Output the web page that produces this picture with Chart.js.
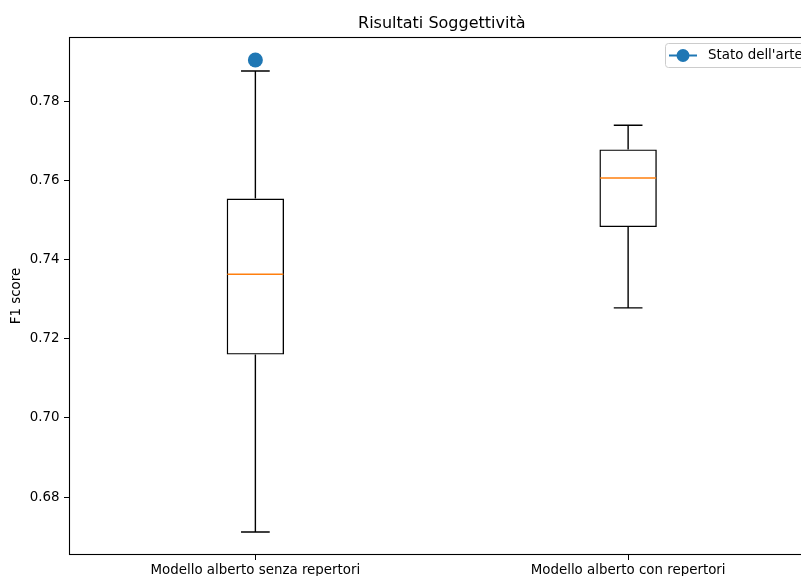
<!DOCTYPE html>
<html>
<head>
<meta charset="utf-8">
<script src="https://cdn.jsdelivr.net/npm/chart.js@4.4.1/dist/chart.umd.min.js"></script>
<style>
  html, body { margin: 0; padding: 0; background: #fff; overflow: hidden; }
  #wrap { position: absolute; left: 0; top: 0; width: 830px; height: 576px; }
</style>
</head>
<body>
<div id="wrap"><canvas id="c"></canvas></div>
<script>
// Models compared
const categories = ['Modello alberto senza repertori', 'Modello alberto con repertori'];
// Box plot statistics of the F1 score per model
const whiskerLow  = [0.6712, 0.7278];
const quartile1   = [0.7160, 0.7482];
const medians     = [0.7363, 0.7606];
const quartile3   = [0.7554, 0.7678];
const whiskerHigh = [0.7876, 0.7739];
// Reference result from the literature (first model only)
const stateOfArt  = [0.7904, null];
// Y axis ticks
const yTicks = [0.68, 0.70, 0.72, 0.74, 0.76, 0.78];

const FONT = 'DejaVu Sans';
const BLUE = '#1f77b4';

// Whiskers, caps and medians drawn over the floating-bar boxes
const boxPlotExtras = {
  id: 'boxPlotExtras',
  afterDatasetsDraw(chart) {
    const ctx = chart.ctx;
    const y = chart.scales.y;
    const meta = chart.getDatasetMeta(0);
    ctx.save();
    meta.data.forEach((bar, i) => {
      const x = bar.x;
      const half = bar.width / 2;
      const cap = half / 2;
      const yLo = y.getPixelForValue(whiskerLow[i]);
      const yQ1 = y.getPixelForValue(quartile1[i]);
      const yQ3 = y.getPixelForValue(quartile3[i]);
      const yHi = y.getPixelForValue(whiskerHigh[i]);
      const yMed = y.getPixelForValue(medians[i]);
      ctx.strokeStyle = '#000';
      ctx.lineWidth = 1.4;
      ctx.beginPath();
      ctx.moveTo(x, yQ1); ctx.lineTo(x, yLo);
      ctx.moveTo(x, yQ3); ctx.lineTo(x, yHi);
      ctx.moveTo(x - cap, yLo); ctx.lineTo(x + cap, yLo);
      ctx.moveTo(x - cap, yHi); ctx.lineTo(x + cap, yHi);
      ctx.stroke();
      ctx.strokeStyle = '#ff7f0e';
      ctx.lineWidth = 1.5;
      ctx.beginPath();
      ctx.moveTo(x - half + 0.7, yMed); ctx.lineTo(x + half - 0.7, yMed);
      ctx.stroke();
    });
    ctx.restore();
  }
};

// Axes frame and legend in the upper right corner
const frameAndLegend = {
  id: 'frameAndLegend',
  afterDraw(chart) {
    const ctx = chart.ctx;
    const a = chart.chartArea;
    ctx.save();
    ctx.strokeStyle = '#000';
    ctx.lineWidth = 1.1;
    ctx.strokeRect(a.left + 0.5, a.top + 0.5, a.right - a.left - 1, a.bottom - a.top - 1);

    // legend box
    const ds = chart.data.datasets[1];
    const bx = 665.5, by = 43.5, bw = 142, bh = 24, r = 3;
    ctx.fillStyle = 'rgba(255,255,255,0.8)';
    ctx.strokeStyle = '#cccccc';
    ctx.lineWidth = 1;
    ctx.beginPath();
    ctx.roundRect(bx, by, bw, bh, r);
    ctx.fill();
    ctx.stroke();
    const cy = by + bh / 2;
    ctx.strokeStyle = BLUE;
    ctx.lineWidth = 2;
    ctx.beginPath();
    ctx.moveTo(669, cy); ctx.lineTo(697, cy);
    ctx.stroke();
    ctx.fillStyle = BLUE;
    ctx.beginPath();
    ctx.arc(683, cy, 6.5, 0, Math.PI * 2);
    ctx.fill();
    ctx.fillStyle = '#000';
    ctx.font = '13.4px "' + FONT + '"';
    ctx.textBaseline = 'middle';
    ctx.textAlign = 'left';
    ctx.fillText(ds.label, 708, cy + 0.5);
    ctx.restore();
  }
};

new Chart(document.getElementById('c'), {
  data: {
    labels: categories,
    datasets: [
      {
        type: 'bar',
        label: 'Box',
        data: quartile1.map((q, i) => [q, quartile3[i]]),
        backgroundColor: 'rgba(0,0,0,0)',
        borderColor: '#000',
        borderWidth: 1.4,
        borderSkipped: false,
        barPercentage: 0.154,
        categoryPercentage: 1,
        grouped: false
      },
      {
        type: 'line',
        label: "Stato dell'arte",
        data: stateOfArt,
        borderColor: BLUE,
        backgroundColor: BLUE,
        borderWidth: 2,
        pointRadius: 7.5,
        pointHoverRadius: 7.5,
        pointBorderWidth: 0,
        showLine: false
      }
    ]
  },
  options: {
    responsive: true,
    maintainAspectRatio: false,
    animation: false,
    events: [],
    layout: { padding: { left: 0, right: 15.5, top: 0, bottom: 0 } },
    plugins: {
      legend: { display: false },
      tooltip: { enabled: false },
      title: {
        display: true,
        text: 'Risultati Soggettività',
        fullSize: false,
        color: '#000',
        font: { family: FONT, size: 16, weight: 'normal' },
        padding: { top: 14, bottom: 3.8 }
      }
    },
    scales: {
      x: {
        type: 'category',
        offset: true,
        border: { display: false },
        grid: { offset: false, drawOnChartArea: false, drawTicks: true, tickLength: 5, color: '#000', tickWidth: 1 },
        ticks: { color: '#000', font: { family: FONT, size: 13.4 }, padding: 2.5, maxRotation: 0, autoSkip: false },
        afterFit(scale) { scale.height = 21; }
      },
      y: {
        type: 'linear',
        min: 0.6654,
        max: 0.7962,
        border: { display: false },
        grid: { drawOnChartArea: false, drawTicks: true, tickLength: 5, color: '#000', tickWidth: 1 },
        ticks: {
          color: '#000',
          font: { family: FONT, size: 13.4 },
          padding: 4.5,
          callback: v => Number(v).toFixed(2)
        },
        afterBuildTicks(scale) { scale.ticks = yTicks.map(v => ({ value: v })); },
        title: {
          display: true,
          text: 'F1 score',
          color: '#000',
          font: { family: FONT, size: 13.4 },
          padding: { top: 8, bottom: 0 }
        },
        afterFit(scale) { scale.width = 69; }
      }
    }
  },
  plugins: [boxPlotExtras, frameAndLegend]
});
</script>
</body>
</html>
